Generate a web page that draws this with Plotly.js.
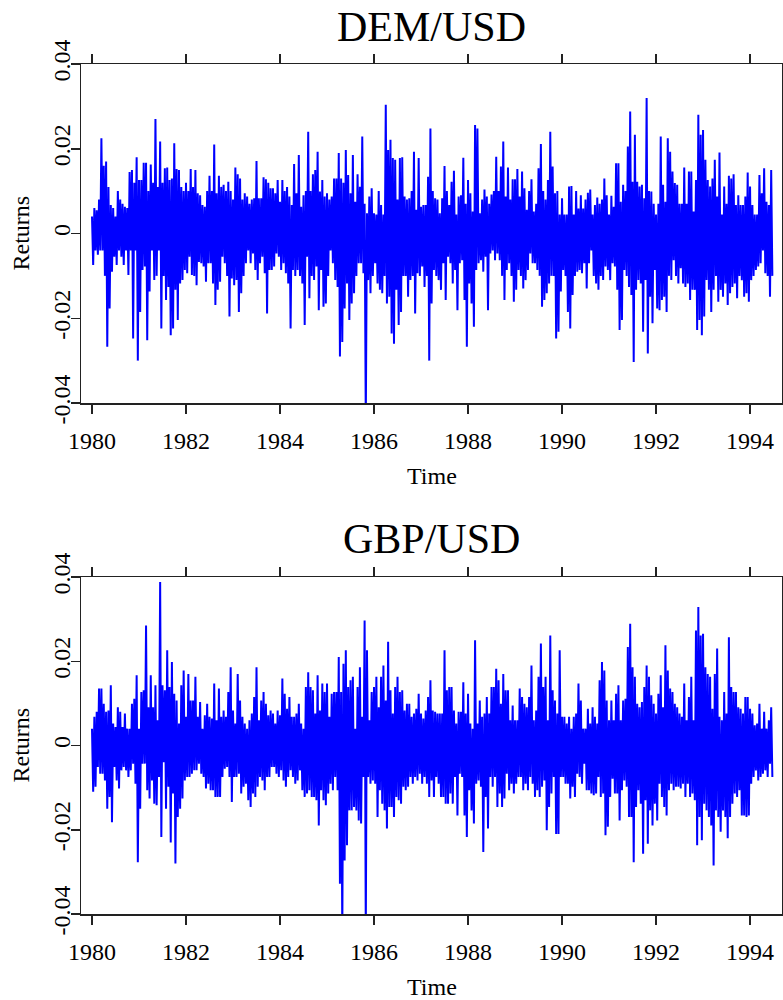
<!DOCTYPE html>
<html>
<head>
<meta charset="utf-8">
<script src="https://cdn.plot.ly/plotly-3.0.1.min.js"></script>
<style>html,body{margin:0;padding:0;background:#fff;}#chart{width:783px;height:1000px;}</style>
</head>
<body>
<div id="chart"></div>
<script>
// Daily-return series, read off the picture as upper / lower envelope values
// sampled every 0.05 year starting at 1980.0 (the lower value falls half a step later).
const startYear = 1980;
const stepYears = 0.05;

const demUpper = [
.004,.006,.0055,.008,.0225,.016,.017,.011,.0067,.006,
.004,.010,.008,.007,.0063,.006,.0145,.015,.012,.018,
.0126,.0126,.0167,.0167,.010,.0163,.012,.027,.011,.0217,
.012,.0154,.0156,.0126,.013,.0213,.0152,.015,.011,.010,
.012,.010,.0152,.011,.015,.0095,.009,.0067,.0063,.010,
.0136,.010,.021,.0095,.0136,.011,.0115,.010,.0122,.010,
.008,.0156,.014,.013,.008,.0095,.0087,.007,.008,.0083,
.0171,.0083,.0083,.0133,.0128,.012,.0107,.0107,.0095,.0126,
.0075,.0126,.010,.011,.0087,.0067,.0164,.0095,.0185,.0063,
.009,.010,.024,.010,.014,.015,.0193,.0099,.0126,.0087,
.0095,.008,.0087,.013,.013,.019,.013,.012,.0197,.0138,
.0095,.0185,.0075,.014,.011,.0229,.007,.0048,.0087,.0107,
.0048,.0045,.010,.0067,.0045,.0304,.0197,.0221,.0178,.0174,
.008,.0178,.018,.0087,.008,.0083,.010,.0193,.0056,.0178,
.0063,.0067,.0067,.0134,
.0248,.010,.0083,.008,.0048,.0083,
.0159,.010,.0067,.0122,.0148,.0045,.0087,.009,.0179,.007,
.0126,.0095,.0052,.0256,.0248,.0048,.008,.0104,.0087,.007,
.0092,.010,.0181,.010,.0158,.0217,.0087,.0156,.008,.0128,
.0128,.0152,.0087,.0146,.0107,.0056,.010,.0128,.0052,.007,
.0154,.0211,.010,.008,.0126,.024,.0158,.0095,.010,.0045,
.0083,.0045,.0045,.0111,.0112,.0045,.010,.0059,.009,.0059,
.008,.0096,.0104,.0045,.0067,.0085,.007,.008,.013,.009,
.0045,.0089,.0063,.0166,.0166,.0075,.0115,.010,.0205,.0288,
.0122,.0233,.0122,.0111,.0115,.0083,.032,.010,.0099,.007,
.0045,.007,.0229,.0115,.0075,.0225,.0193,.0146,.0119,.0115,
.007,.007,.0156,.007,.0146,.0146,.0052,.0126,.028,.0233,
.0244,.0174,.0126,.0111,.013,.0174,.0087,.0191,.0045,.0111,
.007,.0136,.013,.014,.0067,.009,.0067,.0067,.0087,.0144,
.0111,.0067,.0045,.0045,.0138,.0095,.0154,.0075,.0067,.015
];
const demLower = [
-.0074,-.004,-.005,-.004,-.004,-.010,-.0267,-.0177,-.009,-.0055,
-.0074,-.004,-.0055,-.0074,-.004,-.0098,-.004,-.0248,-.004,-.030,
-.0185,-.0086,-.0078,-.0252,-.0137,-.004,-.011,-.010,-.004,-.0224,
-.010,-.0157,-.0126,-.024,-.0224,-.0133,-.0204,-.0118,-.011,-.0086,
-.0094,-.0055,-.0098,-.010,-.0122,-.0067,-.007,-.0078,-.0114,-.007,
-.007,-.0118,-.0169,-.0133,-.0114,-.0055,-.007,-.010,-.0196,-.0106,
-.0122,-.011,-.0185,-.0141,-.010,-.007,-.004,-.007,-.0047,-.0086,
-.011,-.007,-.0055,-.0094,-.0189,-.0086,-.0086,-.0078,-.0047,-.0055,
-.0086,-.007,-.0094,-.0118,-.0224,-.0086,-.010,-.0086,-.010,-.0118,
-.0216,-.0055,-.0153,-.010,-.011,-.0078,-.0181,-.0086,-.0173,-.0165,
-.010,-.004,-.007,-.011,-.0126,-.029,-.0256,-.0177,-.0118,-.0204,
-.0165,-.0141,-.010,-.007,-.007,-.0094,-.045,-.011,-.0141,-.010,
-.007,-.0118,-.0133,-.0141,-.010,-.0165,-.0149,-.0236,-.026,-.0133,
-.0216,-.0185,-.010,-.010,-.0149,-.011,-.010,-.0189,-.0094,-.010,
-.0078,-.0126,-.010,-.030,
-.0165,-.0086,-.010,-.011,-.0133,-.007,
-.0157,-.0055,-.007,-.0118,-.0086,-.0181,-.007,-.0063,-.0157,-.0267,
-.0118,-.0165,-.022,-.0086,-.007,-.0063,-.009,-.0055,-.0181,-.0047,
-.004,-.0063,-.0047,-.0063,-.010,-.0157,-.0086,-.007,-.010,-.0161,
-.0133,-.0086,-.010,-.013,-.011,-.0086,-.0047,-.007,-.007,-.0086,
-.010,-.0173,-.0157,-.0141,-.0118,-.010,-.010,-.0248,-.0232,-.0137,
-.0086,-.010,-.0185,-.0224,-.0145,-.010,-.009,-.0086,-.0094,-.007,
-.013,-.007,-.004,-.010,-.0118,-.0133,-.010,-.011,-.0078,-.0086,
-.011,-.007,-.0078,-.0133,-.0228,-.0204,-.0086,-.010,-.0126,-.0145,
-.0303,-.0133,-.011,-.0118,-.0232,-.011,-.0283,-.0149,-.0212,-.0086,
-.0177,-.0181,-.0157,-.0149,-.0185,-.010,-.011,-.0063,-.010,-.0118,
-.0082,-.0118,-.0126,-.0118,-.0157,-.0133,-.0133,-.0228,-.0204,-.024,
-.0196,-.011,-.0133,-.0185,-.0133,-.010,-.0161,-.0133,-.0149,-.0118,
-.0169,-.0141,-.0126,-.0118,-.0153,-.010,-.011,-.0149,-.0141,-.0161,
-.011,-.010,-.0086,-.0078,-.007,-.004,-.0094,-.010,-.0149,-.010
];
const gbpUpper = [
.004,.0068,.008,.0135,.0135,.0099,.008,.0083,.0143,.0052,
.0044,.0091,.008,.0044,.0076,.004,.004,.0099,.0111,.0167,
.004,.0127,.0131,.0285,.0091,.0167,.0091,.0143,.006,.0388,
.0143,.0131,.0226,.0139,.0198,.0123,.0107,.0052,.0143,.0178,
.0068,.017,.0107,.0107,.0163,.0068,.0103,.004,.0072,.0099,
.0068,.0064,.0147,.006,.0135,.0068,.0083,.0068,.0127,.0186,
.0083,.0052,.017,.0107,.0068,.0052,.004,.006,.0076,.0115,
.0186,.006,.0107,.0127,.0099,.0072,.0083,.0076,.0052,.0083,
.0072,.0159,.0123,.0087,.0115,.0068,.0068,.0076,.0099,.0052,
.004,.0139,.0174,.0139,.0131,.0076,.0167,.0083,.0147,.0127,
.0147,.0068,.0123,.0127,.0127,.021,.0127,.0194,.0226,.0139,
.0155,.0163,.004,.0139,.0186,.0068,.0297,.0226,.006,.0127,
.0139,.0163,.0091,.0163,.019,.0107,.0246,.0131,.0076,.0139,
.0163,.0127,.0131,.0083,.0099,.0099,.0068,.0076,.0087,.0123,
.0076,.0064,.0083,.0115,
.0155,.0083,.008,.0076,.0076,.0076,
.0226,.0131,.0139,.0139,.0083,.0052,.008,.008,.015,.0076,
.0123,.0052,.004,.025,.0052,.0107,.0068,.0076,.0115,.0076,
.0139,.0139,.0182,.0155,.0099,.017,.0131,.0131,.006,.0095,
.006,.006,.0135,.0115,.0099,.0091,.0115,.019,.006,.0083,
.0163,.0242,.0139,.0163,.006,.0261,.0131,.0107,.0076,.0226,
.0068,.0068,.0052,.0068,.004,.0068,.0076,.0147,.0107,.004,
.004,.0087,.0052,.0091,.0068,.0052,.0155,.0198,.0178,.0107,
.006,.0107,.006,.0123,.0143,.006,.0107,.0111,.0234,.0289,
.0186,.0163,.0099,.0091,.0103,.0139,.019,.0163,.0119,.0099,
.0076,.0123,.0167,.0091,.0238,.0178,.0135,.0127,.0099,.0091,
.0076,.0068,.0147,.006,.0115,.0163,.006,.0273,.0329,.0261,
.0265,.0186,.017,.0163,.0087,.017,.023,.0068,.006,.0127,
.0076,.0257,.0139,.0127,.0127,.0091,.0087,.0076,.0115,.0115,
.0087,.0076,.0048,.0052,.0099,.004,.008,.004,.006,.0091
];
const gbpLower = [
-.011,-.0098,-.0051,-.0067,-.0067,-.0083,-.015,-.0122,-.0182,-.0051,
-.0083,-.0102,-.0059,-.0051,-.0059,-.0075,-.0059,-.0043,-.0091,-.0277,
-.015,-.0043,-.0043,-.0106,-.0126,-.0083,-.0138,-.0142,-.0075,-.0217,
-.004,-.015,-.0098,-.023,-.0114,-.028,-.017,-.015,-.0126,-.0083,
-.0075,-.0075,-.0067,-.0059,-.0059,-.0043,-.0067,-.0075,-.0102,-.0091,
-.0106,-.0106,-.0122,-.0122,-.0122,-.0075,-.0055,-.0051,-.0075,-.0134,
-.0075,-.0075,-.0067,-.0114,-.0098,-.0091,-.013,-.0146,-.0114,-.0122,
-.0098,-.0075,-.0083,-.0106,-.0075,-.0075,-.0051,-.0051,-.0067,-.0075,
-.0059,-.0083,-.0098,-.0075,-.0059,-.0075,-.0091,-.0083,-.0059,-.0106,
-.0122,-.0114,-.0106,-.0122,-.0122,-.013,-.019,-.0106,-.013,-.0142,
-.0114,-.0091,-.0106,-.0075,-.0106,-.0328,-.045,-.0273,-.0237,-.0154,
-.0154,-.0146,-.0154,-.0178,-.0185,-.0075,-.045,-.0075,-.0091,-.0083,
-.0091,-.017,-.0106,-.0138,-.0154,-.0197,-.0146,-.0146,-.017,-.0122,
-.013,-.0138,-.0098,-.0106,-.0098,-.0075,-.0091,-.0075,-.0083,-.0067,
-.0091,-.0075,-.0091,-.0122,
-.0083,-.0122,-.0075,-.0091,-.0122,-.0122,
-.0138,-.0138,-.0114,-.0138,-.0075,-.0166,-.0067,-.0075,-.0166,-.0217,
-.0106,-.0154,-.0185,-.0091,-.0083,-.0098,-.0253,-.0122,-.0197,-.0075,
-.0098,-.0075,-.0146,-.0114,-.0146,-.0126,-.0067,-.0106,-.0091,-.0114,
-.0091,-.0075,-.0075,-.0106,-.0091,-.0106,-.0075,-.0091,-.0122,-.0106,
-.0122,-.0098,-.0083,-.0201,-.0146,-.0114,-.0075,-.021,-.021,-.0075,
-.0075,-.0091,-.0091,-.0126,-.0098,-.0122,-.0067,-.0075,-.0091,-.0043,
-.0106,-.0106,-.0114,-.0118,-.0114,-.0075,-.0122,-.0114,-.0213,-.0193,
-.0122,-.0079,-.0114,-.0114,-.0178,-.0106,-.0083,-.0098,-.017,-.017,
-.0277,-.0146,-.0106,-.0138,-.0257,-.013,-.0233,-.0154,-.019,-.0138,
-.0178,-.0091,-.0122,-.0146,-.0166,-.0106,-.0091,-.0106,-.0098,-.0098,
-.0102,-.0091,-.0122,-.0091,-.0122,-.0114,-.013,-.0237,-.017,-.0225,
-.0138,-.0154,-.017,-.019,-.0285,-.0154,-.017,-.0205,-.0154,-.017,
-.022,-.017,-.0138,-.0114,-.0122,-.0106,-.0166,-.0166,-.017,-.0166,
-.0091,-.0075,-.0059,-.0083,-.0075,-.0067,-.0059,-.0075,-.0043,-.0075
];

const panelTitles = ["DEM/USD", "GBP/USD"];
const xTickVals = [1980, 1982, 1984, 1986, 1988, 1990, 1992, 1994];
const xTickText = ["1980", "1982", "1984", "1986", "1988", "1990", "1992", "1994"];
const yTickVals = [-0.04, -0.02, 0, 0.02, 0.04];
const yTickText = ["-0.04", "-0.02", "0", "0.02", "0.04"];
const xLabel = "Time";
const yLabel = "Returns";

function series(upper, lower) {
  const x = [], y = [];
  for (let i = 0; i < upper.length; i++) {
    x.push(startYear + i * stepYears); y.push(upper[i]);
    x.push(startYear + (i + 0.5) * stepYears); y.push(lower[i]);
  }
  return {x, y};
}

const W = 783, H = 1000;
const FONT = "Liberation Serif, Times New Roman, serif";
const fx = px => px / W;
const fy = px => 1 - px / H;

const s1 = series(demUpper, demLower);
const s2 = series(gbpUpper, gbpLower);

const lineStyle = {color: "#0000ff", width: 2};
const traces = [
  {x: s1.x, y: s1.y, type: "scatter", mode: "lines", line: lineStyle, xaxis: "x", yaxis: "y", hoverinfo: "skip"},
  {x: s2.x, y: s2.y, type: "scatter", mode: "lines", line: lineStyle, xaxis: "x2", yaxis: "y2", hoverinfo: "skip"}
];

function xAxis(anchor, domain) {
  return {
    anchor, domain, range: [1979.766, 1994.68],
    tickvals: xTickVals, ticktext: xTickText,
    ticks: "outside", ticklen: 9, tickwidth: 1.5, tickcolor: "#222",
    showline: true, linecolor: "#222", linewidth: 1.5, mirror: "ticks",
    showgrid: false, zeroline: false,
    tickfont: {family: FONT, size: 24, color: "#000"},
    ticklabelstandoff: 7
  };
}
function yAxis(anchor, domain) {
  return {
    anchor, domain, range: [-0.04, 0.04],
    tickvals: yTickVals, ticktext: yTickText, tickangle: -90,
    ticks: "outside", ticklen: 9, tickwidth: 1.5, tickcolor: "#222",
    showline: true, linecolor: "#222", linewidth: 1.5, mirror: true,
    showgrid: false, zeroline: false,
    tickfont: {family: FONT, size: 24, color: "#000"},
    ticklabelstandoff: -9
  };
}

const xDom = [fx(81), fx(782)];
const layout = {
  width: W, height: H,
  margin: {l: 0, r: 0, t: 0, b: 0},
  paper_bgcolor: "#fff", plot_bgcolor: "#fff",
  showlegend: false,
  xaxis: xAxis("y", xDom),
  yaxis: yAxis("x", [fy(403), fy(64)]),
  xaxis2: xAxis("y2", xDom),
  yaxis2: yAxis("x2", [fy(914), fy(577)]),
  annotations: [
    {text: panelTitles[0], xref: "paper", yref: "paper", x: fx(431.5), y: fy(27), xanchor: "center", yanchor: "middle", showarrow: false, font: {family: FONT, size: 42, color: "#000"}},
    {text: panelTitles[1], xref: "paper", yref: "paper", x: fx(431.5), y: fy(539), xanchor: "center", yanchor: "middle", showarrow: false, font: {family: FONT, size: 42, color: "#000"}},
    {text: xLabel, xref: "paper", yref: "paper", x: fx(431.5), y: fy(476), xanchor: "center", yanchor: "middle", showarrow: false, font: {family: FONT, size: 24, color: "#000"}},
    {text: xLabel, xref: "paper", yref: "paper", x: fx(431.5), y: fy(987), xanchor: "center", yanchor: "middle", showarrow: false, font: {family: FONT, size: 24, color: "#000"}},
    {text: yLabel, xref: "paper", yref: "paper", x: fx(20), y: fy(233.5), xanchor: "center", yanchor: "middle", textangle: -90, showarrow: false, font: {family: FONT, size: 24, color: "#000"}},
    {text: yLabel, xref: "paper", yref: "paper", x: fx(20), y: fy(745.5), xanchor: "center", yanchor: "middle", textangle: -90, showarrow: false, font: {family: FONT, size: 24, color: "#000"}}
  ]
};

Plotly.newPlot("chart", traces, layout, {staticPlot: true, displayModeBar: false});
</script>
</body>
</html>
